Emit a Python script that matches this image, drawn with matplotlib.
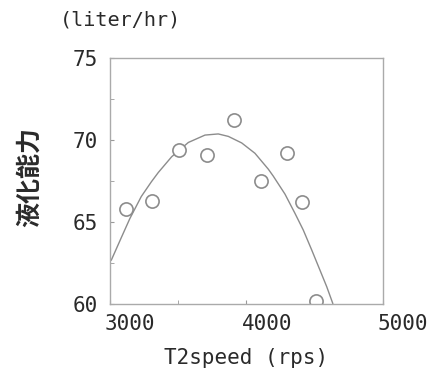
import numpy as np
import matplotlib
matplotlib.use("Agg")
import matplotlib.pyplot as plt
from matplotlib.ticker import MultipleLocator
import matplotlib.transforms as mtransforms

# measured points (T2 speed in rps, liquefaction capacity in liter/hr)
speed = [3117, 3308, 3505, 3712, 3905, 4106, 4300, 4406, 4509]
capacity = [65.8, 66.3, 69.4, 69.1, 71.2, 67.5, 69.2, 66.2, 60.2]

# fitted curve
curve_x = [3010, 3083, 3145, 3229, 3303, 3354, 3452, 3574, 3696, 3793,
           3867, 3965, 4062, 4160, 4196, 4282, 4355, 4416, 4478, 4538,
           4588, 4632]
curve_y = [62.68, 64.05, 65.20, 66.55, 67.45, 68.02, 68.98, 69.85, 70.30, 70.37,
           70.22, 69.82, 69.19, 68.22, 67.80, 66.70, 65.53, 64.51, 63.29, 62.07,
           61.05, 60.04]

xticks = [3000, 4000, 5000]
yticks = [60, 65, 70, 75]

mono = "DejaVu Sans Mono"
txt_color = "#2a2a2a"
gray = "#8c8c8c"

fig = plt.figure(figsize=(4.37, 3.74), dpi=100)
ax = fig.add_axes([0.2517, 0.1872, 0.6247, 0.6577])

ax.plot(curve_x, curve_y, color=gray, lw=1.0, solid_joinstyle="round")
ax.plot(speed, capacity, linestyle="none", marker="o", ms=9.5,
        mfc="white", mec=gray, mew=1.2)

ax.set_xlim(3000, 5000)
ax.set_ylim(60, 75)
ax.set_xticks(xticks)
ax.set_yticks(yticks)
ax.xaxis.set_minor_locator(MultipleLocator(500))
ax.yaxis.set_minor_locator(MultipleLocator(2.5))
ax.tick_params(which="both", direction="in", length=3, color="#999999",
               top=False, right=False)
ax.tick_params(axis="y", pad=9)
ax.tick_params(axis="x", pad=7)

for s in ax.spines.values():
    s.set_color("#aaaaaa")
    s.set_linewidth(1.0)

for lab in ax.get_xticklabels():
    lab.set_fontfamily(mono)
    lab.set_fontsize(15)
    lab.set_color(txt_color)
    lab.set_horizontalalignment("left")
    lab.set_transform(lab.get_transform() +
                      mtransforms.ScaledTranslation(-5 / 100, 0, fig.dpi_scale_trans))
for lab in ax.get_yticklabels():
    lab.set_fontfamily(mono)
    lab.set_fontsize(15)
    lab.set_color(txt_color)

fig.text(0.2517 + 0.3124, 1 - 358 / 374, "T2speed (rps)", family=mono, fontsize=15,
         color=txt_color, ha="center", va="center")
fig.text(120 / 437, 1 - 20 / 374, "(liter/hr)", family=mono, fontsize=14.5,
         color=txt_color, ha="center", va="center")
fig.text(30 / 437, 1 - 177 / 374, "液化能力", family=["Noto Sans CJK JP", "DejaVu Sans"],
         fontsize=18, fontweight="bold", color=txt_color, rotation=90,
         ha="center", va="center")

fig.savefig("out.png", dpi=100)
